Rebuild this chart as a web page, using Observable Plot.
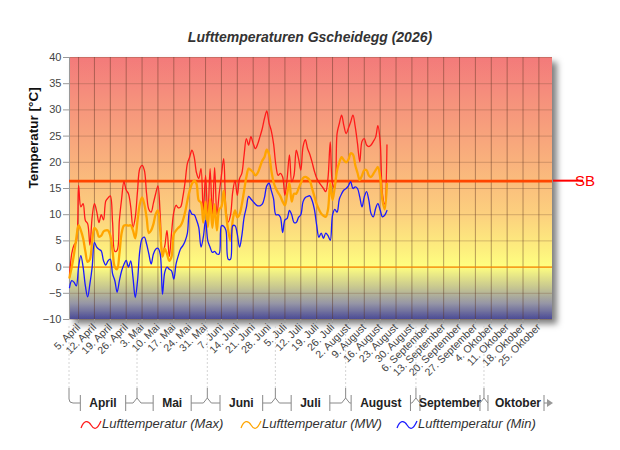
<!DOCTYPE html>
<html><head><meta charset="utf-8">
<script src="https://cdn.jsdelivr.net/npm/d3@7"></script>
<script src="https://cdn.jsdelivr.net/npm/@observablehq/plot@0.6"></script>
<style>
body{margin:0;background:#fff;font-family:"Liberation Sans",Arial,sans-serif;}
#wrap{position:relative;width:620px;height:450px;overflow:hidden;}
#title{position:absolute;left:0;top:29px;width:620px;text-align:center;font:italic bold 14px "Liberation Sans",Arial,sans-serif;color:#333;}
#chart{position:absolute;left:0;top:0;}
.leg{position:absolute;top:416px;font:italic 13px "Liberation Sans",Arial,sans-serif;color:#333;line-height:16px;white-space:nowrap;}
.legicon{position:absolute;top:418px;}
g[aria-label="y-axis tick"] path, g[aria-label="x-axis tick"] path{stroke:#999;}
</style></head>
<body>
<div id="wrap">
  <div id="chart"></div>
  <div id="title">Lufttemperaturen Gscheidegg (2026)</div>
</div>
<script>
// ---- data ----
const firstDay = "2026-04-01";
const lastDay = "2026-10-31";
const tMax = [-1.5,2.6,4.2,4.8,15.6,11.5,12.1,8.9,8.3,4.2,
 9.6,12.1,10.6,8.5,10.0,9.0,12.6,13.2,13.6,8.5,
 3.0,3.2,9.0,13.1,16.3,14.7,14.0,11.5,7.6,9.5,
 14.5,18.8,19.4,18.5,14.0,11.0,10.5,12.2,14.0,15.5,
 10.0,2.6,4.0,7.0,2.0,6.5,10.5,11.8,11.3,11.5,
 13.4,16.3,19.8,21.0,22.3,21.0,18.0,16.9,18.8,10.5,
 17.5,9.5,18.8,9.9,19.0,10.0,14.0,17.5,20.7,11.0,
 8.6,9.9,14.4,16.5,13.7,16.9,17.9,21.4,24.5,23.3,
 24.9,23.6,22.6,23.5,24.9,26.4,28.4,29.8,27.5,26.0,
 23.5,19.5,17.5,17.9,17.2,13.7,17.0,21.4,16.3,17.5,
 22.3,20.7,18.5,23.0,24.3,22.6,21.5,20.0,18.3,17.0,
 16.2,15.6,15.0,14.4,17.0,23.9,15.9,15.0,25.5,27.4,
 29.0,27.0,25.5,26.5,27.7,29.0,26.8,23.6,20.1,24.0,
 24.5,23.3,23.0,23.3,24.0,24.8,27.0,24.0,14.0,12.0,
 23.3];
const tMW = [-2.0,0.0,2.5,5.5,8.0,7.0,5.5,3.0,1.0,1.5,
 5.0,7.5,7.0,5.8,6.0,6.8,7.0,7.0,6.0,3.0,
 0.0,-0.4,2.5,6.5,7.9,8.0,7.9,8.0,7.0,5.5,
 8.9,12.0,13.3,12.0,9.5,6.5,7.0,8.2,10.1,10.8,
 7.0,2.0,3.5,2.5,1.2,2.0,6.3,7.0,7.5,7.9,
 8.9,10.5,12.7,14.6,15.9,16.5,15.9,12.7,12.3,8.5,
 12.5,7.6,13.0,7.5,12.0,7.0,11.0,11.5,14.6,10.1,
 7.0,5.0,9.0,10.8,9.5,10.1,12.0,14.6,17.2,18.8,
 18.5,18.1,17.5,18.0,19.1,20.3,21.0,22.4,21.5,18.5,
 16.2,15.0,14.2,13.5,12.5,11.8,14.0,16.0,12.5,14.0,
 14.0,15.0,16.0,17.0,17.2,17.0,16.5,15.0,13.5,12.0,
 11.0,10.2,9.8,9.6,11.0,16.0,12.8,15.3,18.5,20.0,
 21.0,20.4,20.0,20.5,21.7,21.5,19.5,18.0,16.6,17.5,
 18.5,18.5,17.5,17.2,17.8,18.5,19.1,17.2,12.8,11.0,
 15.9];
const tMin = [-3.9,-2.6,-2.9,-3.6,0.0,2.2,0.0,-3.6,-5.7,-3.2,
 0.0,4.7,3.8,3.4,3.1,1.2,0.4,1.2,1.5,-1.3,
 -2.6,-4.8,-2.6,-0.7,0.5,1.3,0.0,1.2,-2.0,-5.8,
 -2.6,3.1,5.4,5.7,4.4,2.5,0.6,2.5,3.4,3.6,
 2.5,-5.2,-1.0,0.0,-0.4,-0.7,-2.3,0.6,2.2,3.5,
 4.1,5.0,6.5,10.9,10.1,10.0,9.0,7.6,3.8,5.7,
 8.9,5.0,3.8,2.8,3.0,2.5,2.5,7.9,7.8,7.0,
 1.5,1.5,7.9,7.9,6.3,3.8,6.0,9.5,11.4,13.5,
 13.0,12.5,12.0,11.7,11.7,12.0,13.3,15.5,16.0,14.6,
 13.0,10.0,10.0,9.5,6.6,9.0,9.3,10.8,10.0,8.5,
 8.5,9.5,10.0,12.5,13.3,13.5,13.6,12.7,11.0,8.0,
 5.7,6.5,5.5,6.5,6.0,5.1,9.9,11.0,10.5,13.0,
 14.0,14.7,15.0,15.5,16.3,15.0,15.3,15.0,13.4,11.5,
 13.4,14.4,12.8,10.2,9.6,11.2,12.1,10.9,9.6,9.9,
 10.8];
const sbValue = 16.4;
const sbLabel = "SB";
const yTicks = [-10,-5,0,5,10,15,20,25,30,35,40];
const tickDays = ["2026-04-05","2026-04-12","2026-04-19","2026-04-26",
 "2026-05-03","2026-05-10","2026-05-17","2026-05-24","2026-05-31",
 "2026-06-07","2026-06-14","2026-06-21","2026-06-28",
 "2026-07-05","2026-07-12","2026-07-19","2026-07-26",
 "2026-08-02","2026-08-09","2026-08-16","2026-08-23","2026-08-30",
 "2026-09-06","2026-09-13","2026-09-20","2026-09-27",
 "2026-10-04","2026-10-11","2026-10-18","2026-10-25"];
const monthNames = ["April","Mai","Juni","Juli","August","September","Oktober"];
const monthStarts = ["2026-04-01","2026-05-01","2026-06-01","2026-07-01","2026-08-01","2026-09-01","2026-10-01","2026-11-01"];
const seriesNames = ["Lufttemperatur (Max)","Lufttemperatur (MW)","Lufttemperatur (Min)"];
const seriesColors = ["#ff1a1a","#ffa500","#1a1aff"];
const yLabel = "Temperatur [°C]";

// ---- build ----
const parse = s => new Date(s + "T00:00:00Z");
const start = parse(firstDay), end = parse(lastDay);
const rows = tMax.map((v, i) => ({date: d3.utcDay.offset(start, i), max: v, mw: tMW[i], min: tMin[i]}));
const ticks = tickDays.map(parse);
const fmt = d => `${d.getUTCDate()}. ${monthNames[d.getUTCMonth() - 3]}`;

const plot = Plot.plot({
  width: 620, height: 450,
  marginLeft: 69, marginRight: 68, marginTop: 57, marginBottom: 131,
  x: {type: "utc", domain: [start, end]},
  y: {domain: [-10, 40]},
  style: {fontFamily: "'Liberation Sans', Arial, sans-serif", color: "#444", background: "transparent", overflow: "visible"},
  marks: [
    Plot.rect([0], {x1: start, x2: end, y1: -10, y2: 40, fill: "url(#bgGrad)"}),
    Plot.ruleY(yTicks, {stroke: "#7a5038", strokeOpacity: 0.32}),
    Plot.ruleX(ticks, {stroke: "#5a3222", strokeOpacity: 0.45}),
    Plot.ruleX([start], {stroke: "#999"}),
    Plot.ruleY([0], {stroke: "#ff8c00", strokeWidth: 1.3}),
    Plot.ruleY([sbValue], {stroke: "#ff4500", strokeWidth: 2.6}),
    Plot.lineY(rows, {x: "date", y: "max", stroke: seriesColors[0], strokeWidth: 1.3, curve: "catmull-rom"}),
    Plot.lineY(rows, {x: "date", y: "mw", stroke: seriesColors[1], strokeWidth: 2.3, curve: "catmull-rom"}),
    Plot.lineY(rows, {x: "date", y: "min", stroke: seriesColors[2], strokeWidth: 1.3, curve: "catmull-rom"}),
    Plot.axisY(yTicks, {tickSize: 6, tickPadding: 2, fontSize: 11, label: null}),
    Plot.axisX(ticks, {tickFormat: fmt, tickRotate: -45, tickSize: 4, tickPadding: 2, fontSize: 10.5, label: null}),
    Plot.text([yLabel], {frameAnchor: "left", dx: -36, rotate: -90, fontWeight: "bold", fontSize: 13.5, fill: "#111"})
  ]
});
document.getElementById("chart").appendChild(plot);

const svg = d3.select(plot);
const defs = svg.insert("defs", ":first-child");
const grad = defs.append("linearGradient").attr("id", "bgGrad").attr("x1", 0).attr("y1", 0).attr("x2", 0).attr("y2", 1);
[[40,"#f37a7a"],[30,"#f6967c"],[20,"#f9b17c"],[10,"#fcd07e"],[3,"#fdf07e"],[0,"#ffff80"],[-4,"#c6c690"],[-7,"#9696a6"],[-10,"#4c4c96"]]
  .forEach(([t, c]) => grad.append("stop").attr("offset", (40 - t) / 50).attr("stop-color", c));
const flt = defs.append("filter").attr("id", "shadow").attr("x", "-5%").attr("y", "-5%").attr("width", "115%").attr("height", "115%");
flt.append("feDropShadow").attr("dx", 5).attr("dy", 5).attr("stdDeviation", 3).attr("flood-color", "#000").attr("flood-opacity", 0.5);
svg.select('g[aria-label="rect"]').attr("filter", "url(#shadow)");

const sx = plot.scale("x"), sy = plot.scale("y");
const X = d3.scaleUtc(sx.domain, sx.range);
const Y = d3.scaleLinear(sy.domain, sy.range);

// SB marker outside plot
const g = svg.append("g");
const xr = X(end), ysb = Y(sbValue);
g.append("line").attr("x1", xr + 1).attr("x2", xr + 31).attr("y1", ysb).attr("y2", ysb).attr("stroke", "#ff0000").attr("stroke-width", 2);
g.append("text").attr("x", xr + 33).attr("y", ysb).attr("dy", "0.36em").attr("fill", "#ff0000")
  .attr("font-size", 15).attr("font-family", "'Liberation Sans', Arial, sans-serif").text(sbLabel);

// month brackets
const mb = svg.append("g").attr("stroke", "#888").attr("fill", "none").attr("stroke-width", 1);
const mt = svg.append("g");
const ms = monthStarts.map(s => X(parse(s)));
const yTop = 388, yH = 403;
ms.slice(0, 7).forEach((b, i) => {
  svg.append("line").attr("x1", b).attr("x2", b).attr("y1", 326).attr("y2", yTop)
    .attr("stroke", "#d4d4d4").attr("stroke-dasharray", "2,2");
  mb.append("path").attr("d", i === 0 ? `M${b},${yTop}V${yH - 4}Q${b},${yH} ${b + 4},${yH}` : `M${b},${yTop}V${yH - 5}M${b - 4},${yH}L${b},${yH - 5}L${b + 4},${yH}`);
});
monthNames.forEach((m, i) => {
  const s = ms[i], e = Math.min(ms[i + 1], X(end));
  const c = (s + e) / 2;
  const t = mt.append("text").attr("x", c).attr("y", yH).attr("dy", "0.36em").attr("text-anchor", "middle")
    .attr("font-weight", "bold").attr("font-size", 12).attr("fill", "#222")
    .attr("font-family", "'Liberation Sans', Arial, sans-serif").text(m);
  const w = t.node().getComputedTextLength();
  const bl = Math.max(s + 4, c - w / 2 - 9), br = Math.min(i === 6 ? e - 8 : e - 4, c + w / 2 + 9);
  mb.append("path").attr("d", `M${s + 4},${yH}H${bl}M${bl},${yH - 8}V${yH + 8}M${br},${yH - 8}V${yH + 8}M${br},${yH}H${i === 6 ? e - 5 : e - 4}`);
  if (i === 6) svg.append("path").attr("d", `M${e - 5},${yH - 4}L${e + 1},${yH}L${e - 5},${yH + 4}Z`).attr("fill", "#999");
});

// legend
const leg = document.getElementById("wrap");
const iconX = [80, 240, 396], textX = [102, 262, 418];
seriesNames.forEach((n, i) => {
  const ic = document.createElementNS("http://www.w3.org/2000/svg", "svg");
  ic.setAttribute("width", 22); ic.setAttribute("height", 14);
  ic.setAttribute("class", "legicon");
  ic.style.left = iconX[i] + "px";
  ic.innerHTML = `<path d="M1,10 C4,2 8,2 11,7 S17,12 21,3" fill="none" stroke="${seriesColors[i]}" stroke-width="1.3"/>`;
  leg.appendChild(ic);
  const sp = document.createElement("div");
  sp.className = "leg"; sp.style.left = textX[i] + "px"; sp.textContent = n;
  leg.appendChild(sp);
});
</script>
</body></html>
